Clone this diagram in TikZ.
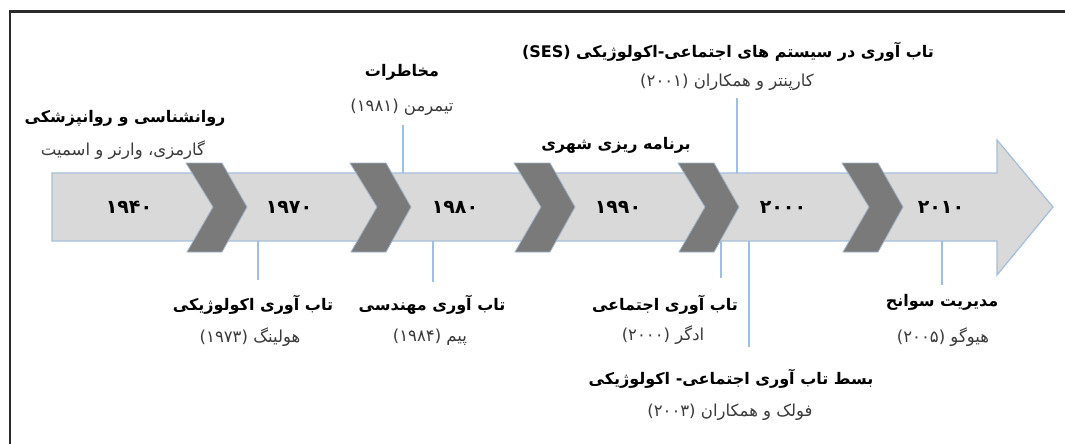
\documentclass[tikz,border=0pt]{standalone}
\usepackage{fontspec}
\newfontfamily\fa[Script=Arabic]{DejaVu Sans}
\TeXXeTstate=1
\newcommand\rtl[1]{\beginR#1\endR}
\definecolor{bodyfill}{HTML}{D9D9D9}
\definecolor{bodyline}{HTML}{A7C0DC}
\definecolor{chevfill}{HTML}{7A7A7A}
\definecolor{connline}{HTML}{9CC0E4}
\definecolor{framecol}{HTML}{2B2B2B}
\definecolor{subcol}{HTML}{3A3A3A}
\tikzset{
  ttl/.style={inner sep=0pt, font=\fa\bfseries\fontsize{16}{18}\selectfont, text=black},
  sub/.style={inner sep=0pt, font=\fa\fontsize{16.5}{18}\selectfont, text=subcol},
  year/.style={inner sep=0pt, font=\fa\bfseries\fontsize{19}{21}\selectfont, text=black},
  conn/.style={draw=connline, line width=1.1pt},
  chev/.style={fill=chevfill, draw=bodyline!80!chevfill, line width=0.8pt, line join=miter},
}
\begin{document}
\begin{tikzpicture}[x=1pt,y=-1pt]
\useasboundingbox (0,0) rectangle (1065,444);
\fill[white] (0,0) rectangle (1065,444);
\begin{scope}
\clip (0,0) rectangle (1065,444);
\draw[framecol, line width=2.6pt] (10,460) -- (10,11.5) -- (1080,11.5);
\end{scope}
% main arrow
\draw[fill=bodyfill, draw=bodyline, line width=1.3pt, line join=miter]
  (52,173) -- (997,173) -- (997,140) -- (1053,207) -- (997,275) -- (997,241) -- (52,241) -- cycle;
% chevrons
\foreach \x in {186,350,514,678,842}{
  \draw[chev] (\x,163) -- (\x+36,163) -- (\x+61,207) -- (\x+36,252) -- (\x+1,252) -- (\x+27,207) -- cycle;
}
% years
\node[year] (y1) at (129,207) {\rtl{۱۹۴۰}};
\node[year] (y2) at (289,207) {\rtl{۱۹۷۰}};
\node[year] (y3) at (455,207) {\rtl{۱۹۸۰}};
\node[year] (y4) at (618,207) {\rtl{۱۹۹۰}};
\node[year] (y5) at (783,207) {\rtl{۲۰۰۰}};
\node[year] (y6) at (941,207) {\rtl{۲۰۱۰}};
% top labels
\node[ttl] (psy) at (125,118) {\rtl{روانشناسی و روانپزشکی}};
\node[sub] (psys) at (123,150) {\rtl{گارمزی، وارنر و اسمیت}};
\node[ttl] (mk) at (402,72) {\rtl{مخاطرات}};
\node[sub] (mks) at (402,107) {\rtl{تیمرمن (۱۹۸۱)}};
\node[ttl] (ses) at (728,52) {\rtl{تاب آوری در سیستم های اجتماعی-اکولوژیکی (\beginL SES\endL)}};
\node[sub] (sess) at (727,82) {\rtl{کارپنتر و همکاران (۲۰۰۱)}};
\node[ttl] (urb) at (616,145) {\rtl{برنامه ریزی شهری}};
% bottom labels
\node[ttl] (eco) at (253,305) {\rtl{تاب آوری اکولوژیکی}};
\node[sub] (ecos) at (250,337) {\rtl{هولینگ (۱۹۷۳)}};
\node[ttl] (eng) at (432,305) {\rtl{تاب آوری مهندسی}};
\node[sub] (engs) at (430,337) {\rtl{پیم (۱۹۸۴)}};
\node[ttl] (soc) at (665,305) {\rtl{تاب آوری اجتماعی}};
\node[sub] (socs) at (663,335) {\rtl{ادگر (۲۰۰۰)}};
\node[ttl] (se2) at (731,379) {\rtl{بسط تاب آوری اجتماعی- اکولوژیکی}};
\node[sub] (se2s) at (730,412) {\rtl{فولک و همکاران (۲۰۰۳)}};
\node[ttl] (dis) at (942,302) {\rtl{مدیریت سوانح}};
\node[sub] (diss) at (943,337) {\rtl{هیوگو (۲۰۰۵)}};
% connectors
\coordinate (c1) at (403,173);
\coordinate (c2) at (737,173);
\coordinate (c3) at (258,241);
\coordinate (c4) at (433,241);
\coordinate (c5) at (721,241);
\coordinate (c6) at (749,241);
\coordinate (c7) at (942,241);
\draw[conn] (c1) -- (c1 |- 0,125);
\draw[conn] (c2) -- (c2 |- 0,98);
\draw[conn] (c3) -- (c3 |- 0,280);
\draw[conn] (c4) -- (c4 |- 0,282);
\draw[conn] (c5) -- (c5 |- 0,278);
\draw[conn] (c6) -- (c6 |- 0,347);
\draw[conn] (c7) -- (c7 |- 0,285);
\end{tikzpicture}
\end{document}
